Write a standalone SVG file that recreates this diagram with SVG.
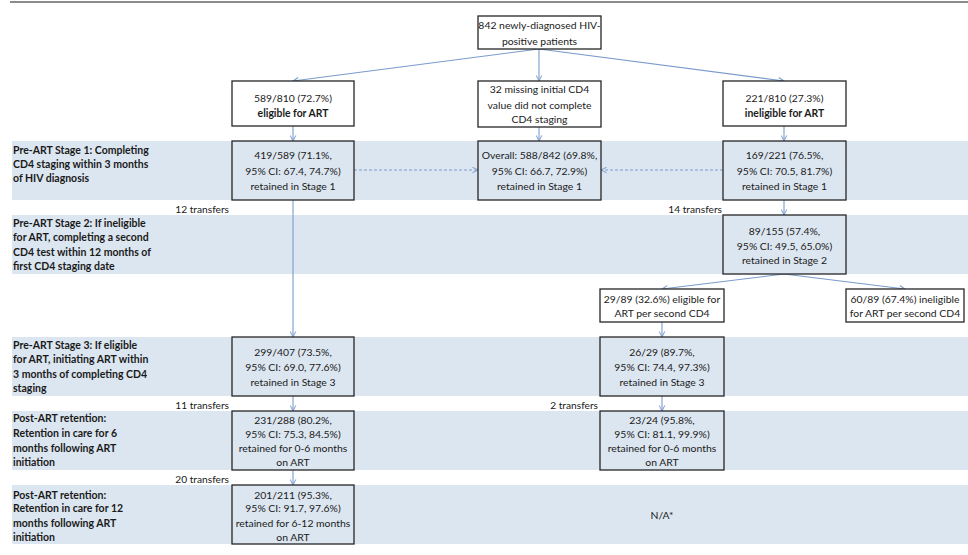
<svg xmlns="http://www.w3.org/2000/svg" width="968" height="555" viewBox="0 0 968 555">
<defs>
<marker id="arr" viewBox="0 0 10 10" refX="9" refY="5" markerWidth="7" markerHeight="7" markerUnits="userSpaceOnUse" orient="auto">
<path d="M1,1 L9,5 L1,9" fill="none" stroke="#7a9bcb" stroke-width="1.4"/>
</marker>
<style>
.band{fill:#dce6f0;}
.box{fill:#ffffff;stroke:#262626;stroke-width:1.3;}
.bbox{fill:#dce6f0;stroke:#262626;stroke-width:1.3;}
.t{font-family:Lato,"Liberation Sans",sans-serif;font-size:10.4px;fill:#1a1a1a;text-anchor:middle;}
.b{font-weight:bold;}
.lab{font-family:Lato,"Liberation Sans",sans-serif;font-size:10.5px;font-weight:bold;fill:#1a1a1a;}
.tr{font-family:Lato,"Liberation Sans",sans-serif;font-size:10.2px;fill:#1a1a1a;text-anchor:end;}
.c{fill:none;stroke:#7a9bcb;stroke-width:1.1;marker-end:url(#arr);}
.d{fill:none;stroke:#7a9bcb;stroke-width:1.1;stroke-dasharray:3,2;marker-end:url(#arr);}
</style>
</defs>
<rect width="968" height="555" fill="#ffffff"/>
<line x1="10" y1="2" x2="968" y2="2" stroke="#666666" stroke-width="1.4"/>

<g id="bands">
<rect class="band" x="12" y="141" width="956" height="59"/>
<rect class="band" x="12" y="215" width="956" height="59"/>
<rect class="band" x="12" y="337" width="956" height="59"/>
<rect class="band" x="12" y="411" width="956" height="59"/>
<rect class="band" x="12" y="485" width="956" height="59"/>
</g>

<g id="row-labels">
<text class="lab" x="13" y="153.5">Pre-ART Stage 1: Completing</text>
<text class="lab" x="13" y="167.5">CD4 staging within 3 months</text>
<text class="lab" x="13" y="181.5">of HIV diagnosis</text>
<text class="lab" x="13" y="226.8">Pre-ART Stage 2: If ineligible</text>
<text class="lab" x="13" y="241.3">for ART, completing a second</text>
<text class="lab" x="13" y="255.8">CD4 test within 12 months of</text>
<text class="lab" x="13" y="270.3">first CD4 staging date</text>
<text class="lab" x="13" y="348.5">Pre-ART Stage 3: If eligible</text>
<text class="lab" x="13" y="363">for ART, initiating ART within</text>
<text class="lab" x="13" y="377.5">3 months of completing CD4</text>
<text class="lab" x="13" y="392">staging</text>
<text class="lab" x="13" y="422">Post-ART retention:</text>
<text class="lab" x="13" y="436.8">Retention in care for 6</text>
<text class="lab" x="13" y="451.6">months following ART</text>
<text class="lab" x="13" y="466.4">initiation</text>
<text class="lab" x="13" y="498.5">Post-ART retention:</text>
<text class="lab" x="13" y="512">Retention in care for 12</text>
<text class="lab" x="13" y="526.5">months following ART</text>
<text class="lab" x="13" y="541">initiation</text>
</g>

<g id="connectors">
<path class="c" d="M539,49 L293,81"/>
<path class="c" d="M539,49 L539,81"/>
<path class="c" d="M539,49 L784,81"/>
<path class="c" d="M293,126 L293,141"/>
<path class="c" d="M539,127 L539,141"/>
<path class="c" d="M784,126 L784,141"/>
<path class="d" d="M354,170 L478,170"/>
<path class="d" d="M723,170 L601,170"/>
<path class="c" d="M293,200 L293,337"/>
<path class="c" d="M784,200 L784,215"/>
<path class="c" d="M784,274 L662,289"/>
<path class="c" d="M784,274 L905,289"/>
<path class="c" d="M662,322 L662,337"/>
<path class="c" d="M293,396 L293,411"/>
<path class="c" d="M662,396 L662,411"/>
<path class="c" d="M293,470 L293,485"/>
</g>

<g id="transfer-labels">
<text class="tr" x="229" y="212.5">12 transfers</text>
<text class="tr" x="722" y="212.5">14 transfers</text>
<text class="tr" x="229" y="408.5">11 transfers</text>
<text class="tr" x="598" y="408.5">2 transfers</text>
<text class="tr" x="229" y="482.5">20 transfers</text>
</g>

<g id="n-total">
<rect class="box" x="478" y="16" width="123" height="33"/>
<text class="t" x="539.5" y="29">842 newly-diagnosed HIV-</text>
<text class="t" x="539.5" y="44.5">positive patients</text>
</g>
<g id="n-eligible">
<rect class="box" x="232" y="81" width="122" height="45"/>
<text class="t" x="293" y="102">589/810 (72.7%)</text>
<text class="t b" x="293" y="116.5">eligible for ART</text>
</g>
<g id="n-missing">
<rect class="box" x="478" y="81" width="123" height="46"/>
<text class="t" x="539.5" y="93">32 missing initial CD4</text>
<text class="t" x="539.5" y="108.5">value did not complete</text>
<text class="t" x="539.5" y="123">CD4 staging</text>
</g>
<g id="n-ineligible">
<rect class="box" x="723" y="81" width="123" height="45"/>
<text class="t" x="784.5" y="102">221/810 (27.3%)</text>
<text class="t b" x="784.5" y="116.5">ineligible for ART</text>
</g>
<g id="n-s1-left">
<rect class="bbox" x="232" y="141" width="122" height="59"/>
<text class="t" x="293" y="159">419/589 (71.1%,</text>
<text class="t" x="293" y="175">95% CI: 67.4, 74.7%)</text>
<text class="t" x="293" y="190">retained in Stage 1</text>
</g>
<g id="n-s1-overall">
<rect class="bbox" x="478" y="141" width="123" height="59"/>
<text class="t" x="539.5" y="159">Overall: 588/842 (69.8%,</text>
<text class="t" x="539.5" y="175">95% CI: 66.7, 72.9%)</text>
<text class="t" x="539.5" y="190">retained in Stage 1</text>
</g>
<g id="n-s1-right">
<rect class="bbox" x="723" y="141" width="123" height="59"/>
<text class="t" x="784.5" y="159">169/221 (76.5%,</text>
<text class="t" x="784.5" y="175">95% CI: 70.5, 81.7%)</text>
<text class="t" x="784.5" y="190">retained in Stage 1</text>
</g>
<g id="n-s2">
<rect class="bbox" x="723" y="215" width="123" height="59"/>
<text class="t" x="784.5" y="235">89/155 (57.4%,</text>
<text class="t" x="784.5" y="250">95% CI: 49.5, 65.0%)</text>
<text class="t" x="784.5" y="264">retained in Stage 2</text>
</g>
<g id="n-eligible2">
<rect class="box" x="600" y="289" width="124" height="33"/>
<text class="t" x="662" y="302.5">29/89 (32.6%) eligible for</text>
<text class="t" x="662" y="317">ART per second CD4</text>
</g>
<g id="n-ineligible2">
<rect class="box" x="846" y="289" width="118" height="33"/>
<text class="t" x="905" y="302.5">60/89 (67.4%) ineligible</text>
<text class="t" x="905" y="317">for ART per second CD4</text>
</g>
<g id="n-s3-left">
<rect class="bbox" x="232" y="337" width="122" height="59"/>
<text class="t" x="293" y="356">299/407 (73.5%,</text>
<text class="t" x="293" y="371">95% CI: 69.0, 77.6%)</text>
<text class="t" x="293" y="386">retained in Stage 3</text>
</g>
<g id="n-s3-right">
<rect class="bbox" x="600" y="337" width="124" height="59"/>
<text class="t" x="662" y="356">26/29 (89.7%,</text>
<text class="t" x="662" y="371">95% CI: 74.4, 97.3%)</text>
<text class="t" x="662" y="386">retained in Stage 3</text>
</g>
<g id="n-p6-left">
<rect class="bbox" x="232" y="411" width="122" height="59"/>
<text class="t" x="293" y="423.5">231/288 (80.2%,</text>
<text class="t" x="293" y="437.8">95% CI: 75.3, 84.5%)</text>
<text class="t" x="293" y="452.1">retained for 0-6 months</text>
<text class="t" x="293" y="466.4">on ART</text>
</g>
<g id="n-p6-right">
<rect class="bbox" x="600" y="411" width="124" height="59"/>
<text class="t" x="662" y="423.5">23/24 (95.8%,</text>
<text class="t" x="662" y="437.8">95% CI: 81.1, 99.9%)</text>
<text class="t" x="662" y="452.1">retained for 0-6 months</text>
<text class="t" x="662" y="466.4">on ART</text>
</g>
<g id="n-p12-left">
<rect class="bbox" x="232" y="485" width="122" height="59"/>
<text class="t" x="293" y="498.5">201/211 (95.3%,</text>
<text class="t" x="293" y="512">95% CI: 91.7, 97.6%)</text>
<text class="t" x="293" y="526.5">retained for 6-12 months</text>
<text class="t" x="293" y="541">on ART</text>
</g>
<g id="n-na">
<text class="t" x="662" y="518.5">N/A*</text>
</g>
</svg>
